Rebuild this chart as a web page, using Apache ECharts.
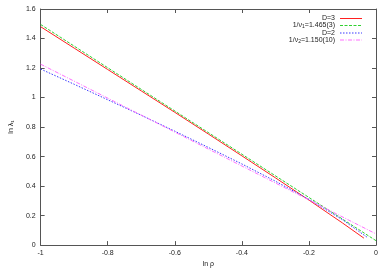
<!DOCTYPE html>
<html><head><meta charset="utf-8">
<script src="https://cdn.jsdelivr.net/npm/echarts@6/dist/echarts.min.js"></script>
<style>html,body{margin:0;padding:0;background:#fff}#c{width:389px;height:273px}</style>
</head><body><div id="c"></div>
<script>
// Data
var xD3 = [-1, -0.9, -0.8, -0.7, -0.6, -0.5, -0.4, -0.3, -0.2, -0.1, -0.036];
var yD3 = [1.480, 1.335, 1.190, 1.045, 0.900, 0.753, 0.605, 0.456, 0.305, 0.150, 0.047];
var xD2 = [-1, -0.9, -0.8, -0.7, -0.6, -0.5, -0.4, -0.3, -0.2, -0.1, -0.027];
var yD2 = [1.193, 1.090, 0.985, 0.880, 0.772, 0.662, 0.550, 0.433, 0.310, 0.172, 0.054];
var xFit = [-1, 0];
var yFit1 = [1.495, 0.030];
var yFit2 = [1.226, 0.076];
var names = ['D=3', '1/ν1=1.465(3)', 'D=2', '1/ν2=1.150(10)'];
var xTicks = [-1, -0.8, -0.6, -0.4, -0.2, 0];
var yTicks = [0, 0.2, 0.4, 0.6, 0.8, 1, 1.2, 1.4, 1.6];

function pairs(xs, ys) { return xs.map(function (x, i) { return [x, ys[i]]; }); }

var FONT = 'Liberation Sans';
var COLORS = ['#ff2020', '#30d030', '#3a3aff', '#ff70ff'];
var DASH = ['solid', [3, 1.5], [1.5, 1.5], [4, 1.5, 1, 1.5]];
var ICON_W = 22;
// build a legend sample as a row of thin rectangles following the dash pattern
function dashIcon(d) {
  if (d === 'solid') return 'path://M0,0H' + ICON_W + 'V1H0Z';
  var p = '', x = 0, k = 0;
  while (x < ICON_W - 0.01) {
    var len = d[k % d.length];
    var end = Math.min(x + len, ICON_W);
    if (k % 2 === 0) p += 'M' + x + ',0H' + end + 'V1H' + x + 'Z';
    x += len; k++;
  }
  return 'path://' + p + 'M' + (ICON_W - 0.01) + ',0H' + ICON_W + 'V0.01H' + (ICON_W - 0.01) + 'Z';
}
var axisCommon = {
  axisLine: { show: true, onZero: false, lineStyle: { color: '#555', width: 1 } },
  axisTick: { show: true, inside: true, length: 4, lineStyle: { color: '#555' } },
  splitLine: { show: false }
};
var chart = echarts.init(document.getElementById('c'), null, { renderer: 'canvas' });
var seriesData = [pairs(xD3, yD3), pairs(xFit, yFit1), pairs(xD2, yD2), pairs(xFit, yFit2)];
chart.setOption({
  animation: false,
  textStyle: { fontFamily: FONT },
  grid: { left: 37, right: 13, top: 9, bottom: 25, containLabel: false },
  legend: {
    orient: 'vertical', right: 22, top: 10, align: 'right',
    itemWidth: ICON_W, itemHeight: 1, itemGap: 0,
    textStyle: { fontFamily: FONT, fontSize: 7, color: '#222',
      rich: { s: { fontSize: 5, fontFamily: FONT, color: '#222', padding: [3, 0, 0, 0] } } },
    formatter: function (n) {
      if (n === names[1]) return '1/ν{s|1}=1.465(3)';
      if (n === names[3]) return '1/ν{s|2}=1.150(10)';
      return n;
    },
    data: names.map(function (n, i) {
      return { name: n, icon: dashIcon(DASH[i]),
        itemStyle: { color: COLORS[i], borderWidth: 0 } };
    })
  },
  xAxis: [
    Object.assign({ type: 'value', min: -1, max: 0, interval: 0.2, position: 'bottom',
      name: 'ln ρ', nameLocation: 'middle', nameGap: 12,
      nameTextStyle: { fontFamily: FONT, fontSize: 7, color: '#222' },
      axisLabel: { fontFamily: FONT, fontSize: 7, color: '#222', margin: 4 } }, axisCommon),
    Object.assign({ type: 'value', min: -1, max: 0, interval: 0.2, position: 'top',
      axisLabel: { show: false } }, axisCommon)
  ],
  yAxis: [
    Object.assign({ type: 'value', min: 0, max: 1.6, interval: 0.2, position: 'left',
      name: 'ln λ₁', nameLocation: 'middle', nameGap: 23, nameRotate: 90,
      nameTextStyle: { fontFamily: FONT, fontSize: 7, color: '#222' },
      axisLabel: { fontFamily: FONT, fontSize: 7, color: '#222', margin: 5 } }, axisCommon),
    Object.assign({ type: 'value', min: 0, max: 1.6, interval: 0.2, position: 'right',
      axisLabel: { show: false } }, axisCommon)
  ],
  series: names.map(function (n, i) {
    return { name: n, type: 'line', data: seriesData[i], showSymbol: false, symbol: 'none',
      lineStyle: { color: COLORS[i], width: 1, type: DASH[i] }, itemStyle: { color: COLORS[i] } };
  })
});
</script></body></html>
